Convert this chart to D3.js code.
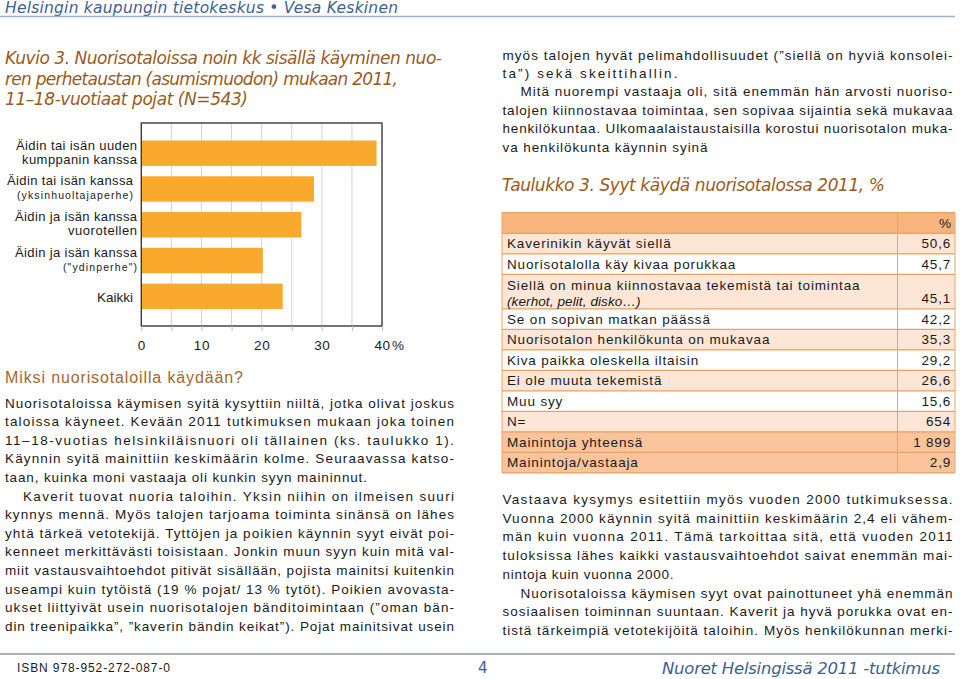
<!DOCTYPE html>
<html><head><meta charset="utf-8">
<script src="https://cdn.jsdelivr.net/npm/d3@7"></script>
<style>
html,body{margin:0;padding:0;background:#fff;}
svg{display:block;}
</style></head>
<body>
<svg id="page" width="960" height="679"></svg>
<script>
// ---------- DATA ----------
const categories = [
  ["Äidin tai isän uuden", "kumppanin kanssa"],
  ["Äidin tai isän kanssa", "(yksinhuoltajaperhe)"],
  ["Äidin ja isän kanssa", "vuorotellen"],
  ["Äidin ja isän kanssa", "(\"ydinperhe\")"],
  ["Kaikki"]
];
const values = [39.1, 28.7, 26.6, 20.2, 23.5];
const xTicks = [0, 5, 10, 15, 20, 25, 30, 35, 40];
const xTickLabels = ["0", "", "10", "", "20", "", "30", "", "40"];

const tableLabels = [
  ["Kaverinikin käyvät siellä"],
  ["Nuorisotalolla käy kivaa porukkaa"],
  ["Siellä on minua kiinnostavaa tekemistä tai toimintaa", "(kerhot, pelit, disko…)"],
  ["Se on sopivan matkan päässä"],
  ["Nuorisotalon henkilökunta on mukavaa"],
  ["Kiva paikka oleskella iltaisin"],
  ["Ei ole muuta tekemistä"],
  ["Muu syy"],
  ["N="],
  ["Mainintoja yhteensä"],
  ["Mainintoja/vastaaja"]
];
const tableValues = ["50,6", "45,7", "45,1", "42,2", "35,3", "29,2", "26,6", "15,6", "654", "1 899", "2,9"];

const leftText = [
  "Nuorisotaloissa käymisen syitä kysyttiin niiltä, jotka olivat joskus",
  "taloissa käyneet. Kevään 2011 tutkimuksen mukaan joka toinen",
  "11–18-vuotias helsinkiläisnuori oli tällainen (ks. taulukko 1).",
  "Käynnin syitä mainittiin keskimäärin kolme. Seuraavassa katso-",
  "taan, kuinka moni vastaaja oli kunkin syyn maininnut.",
  "Kaverit tuovat nuoria taloihin. Yksin niihin on ilmeisen suuri",
  "kynnys mennä. Myös talojen tarjoama toiminta sinänsä on lähes",
  "yhtä tärkeä vetotekijä. Tyttöjen ja poikien käynnin syyt eivät poi-",
  "kenneet merkittävästi toisistaan. Jonkin muun syyn kuin mitä val-",
  "miit vastausvaihtoehdot pitivät sisällään, pojista mainitsi kuitenkin",
  "useampi kuin tytöistä (19 % pojat/ 13 % tytöt). Poikien avovasta-",
  "ukset liittyivät usein nuorisotalojen bänditoimintaan (”oman bän-",
  "din treenipaikka”, ”kaverin bändin keikat”). Pojat mainitsivat usein"
];
const rightTopText = [
  "myös talojen hyvät pelimahdollisuudet (”siellä on hyviä konsolei-",
  "ta”) sekä skeittihallin.",
  "Mitä nuorempi vastaaja oli, sitä enemmän hän arvosti nuoriso-",
  "talojen kiinnostavaa toimintaa, sen sopivaa sijaintia sekä mukavaa",
  "henkilökuntaa. Ulkomaalaistaustaisilla korostui nuorisotalon muka-",
  "va henkilökunta käynnin syinä"
];
const rightBottomText = [
  "Vastaava kysymys esitettiin myös vuoden 2000 tutkimuksessa.",
  "Vuonna 2000 käynnin syitä mainittiin keskimäärin 2,4 eli vähem-",
  "män kuin vuonna 2011. Tämä tarkoittaa sitä, että vuoden 2011",
  "tuloksissa lähes kaikki vastausvaihtoehdot saivat enemmän mai-",
  "nintoja kuin vuonna 2000.",
  "Nuorisotaloissa käymisen syyt ovat painottuneet yhä enemmän",
  "sosiaalisen toiminnan suuntaan. Kaverit ja hyvä porukka ovat en-",
  "tistä tärkeimpiä vetotekijöitä taloihin. Myös henkilökunnan merki-"
];
const titleLines = [
  "Kuvio 3. Nuorisotaloissa noin kk sisällä käyminen nuo-",
  "ren perhetaustan (asumismuodon) mukaan 2011,",
  "11–18-vuotiaat pojat (N=543)"
];

// ---------- PAGE ----------
const svg = d3.select("#page");
const SANS = "'Liberation Sans', Arial, sans-serif";
const VERD = "'DejaVu Sans', Verdana, sans-serif";
const BLUE = "#3f5f90", BROWN = "#9a5a1c", TXT = "#1a1a1a";

function txt(s, x, y, o) {
  o = o || {};
  const t = svg.append("text").attr("x", x).attr("y", y).text(s)
    .attr("font-family", o.family || SANS)
    .attr("font-size", o.size || 13)
    .attr("fill", o.fill || TXT);
  if (o.italic) t.attr("font-style", "italic");
  if (o.anchor) t.attr("text-anchor", o.anchor);
  if (o.ls) t.attr("letter-spacing", o.ls);
  if (o.width) t.attr("textLength", o.width).attr("lengthAdjust", "spacing");
  return t;
}

// header
txt("Helsingin kaupungin tietokeskus • Vesa Keskinen", 5, 12.5, {family: VERD, size: 15.5, italic: true, fill: BLUE, width: 393});
svg.append("line").attr("x1", 0).attr("x2", 955).attr("y1", 16.5).attr("y2", 16.5).attr("stroke", "#9fb3cc").attr("stroke-width", 1.5);

// title
const titleW = [437, 393, 243];
titleLines.forEach((s, i) => txt(s, 5, 64 + i * 20.5, {family: VERD, size: 17, italic: true, fill: BROWN, width: titleW[i]}));

// ---------- CHART ----------
const x = d3.scaleLinear().domain([0, 40]).range([141.3, 382]);
const y = d3.scaleBand().domain(d3.range(categories.length)).range([135.3, 314.2]).paddingInner(0.29).paddingOuter(0.145);
const plotTop = 123, plotBottom = 326;
const chart = svg.append("g");

chart.selectAll("line.grid").data(xTicks.filter(d => d > 0 && d < 40)).join("line")
  .attr("class", "grid").attr("x1", d => x(d)).attr("x2", d => x(d))
  .attr("y1", plotTop).attr("y2", plotBottom).attr("stroke", "#d4d4d4").attr("stroke-width", 1);

chart.selectAll("rect.bar").data(values).join("rect")
  .attr("class", "bar").attr("x", x(0)).attr("y", (d, i) => y(i))
  .attr("width", d => x(d) - x(0)).attr("height", y.bandwidth()).attr("fill", "#f9a92b");

chart.append("rect").attr("x", x(0)).attr("y", plotTop).attr("width", x(40) - x(0)).attr("height", plotBottom - plotTop)
  .attr("fill", "none").attr("stroke", "#3a3a3a").attr("stroke-width", 1.4);

const axis = d3.axisBottom(x).tickValues(xTicks).tickFormat((d, i) => xTickLabels[i]).tickSize(5).tickPadding(9);
const ax = chart.append("g").attr("transform", `translate(0,${plotBottom})`).call(axis);
ax.select(".domain").remove();
ax.selectAll(".tick line").attr("stroke", "#bbb");
ax.selectAll(".tick text").attr("font-family", SANS).attr("font-size", 13.5).attr("fill", TXT).attr("letter-spacing", 0.6);
txt("%", 392, 350, {size: 13.5});

// category labels (line widths are layout measurements)
const labelW = [[121, 115], [126, 116], [122, 69], [122, 74], [36]];
categories.forEach((lines, i) => {
  const c = y(i) + y.bandwidth() / 2;
  if (lines.length === 1) {
    txt(lines[0], 133, c + 6, {size: 13.5, anchor: "end", width: labelW[i][0]});
  } else {
    const small = lines[1].startsWith("(");
    const xr = (i === 1) ? 133 : 137;
    txt(lines[0], xr, c - 3.5, {size: 13, anchor: "end", width: labelW[i][0]});
    txt(lines[1], small ? (i === 1 ? 133 : 137) : 137, c + (small ? 10 : 10.5), {size: small ? 10.5 : 13, anchor: "end", width: labelW[i][1]});
  }
});

// ---------- LEFT TEXT ----------
txt("Miksi nuorisotaloilla käydään?", 5, 382.5, {size: 16, fill: "#a4672d", width: 238});
const leftLast = {4: 362};
leftText.forEach((s, i) => {
  const indent = i === 5 ? 18 : 0;
  const w = leftLast[i] !== undefined ? leftLast[i] : 449 - indent;
  txt(s, 5 + indent, 407.5 + i * 18.61, {size: 13.5, width: w});
});

// ---------- RIGHT TEXT ----------
const rtLast = {1: 175, 5: 205};
rightTopText.forEach((s, i) => {
  const indent = i === 2 ? 18 : 0;
  const w = rtLast[i] !== undefined ? rtLast[i] : 450 - indent;
  txt(s, 502.5 + indent, 59.5 + i * 18.45, {size: 13.5, width: w});
});

txt("Taulukko 3. Syyt käydä nuorisotalossa 2011, %", 502, 191, {family: VERD, size: 17, italic: true, fill: BROWN, width: 383});

// ---------- TABLE ----------
const tLeft = 502, tRight = 955, tDiv = 897.5, tTop = 212.7, hdrH = 20.6, rowH = 20.5, dblH = 34.6;
const rowHeights = tableLabels.map(l => l.length > 1 ? dblH : rowH);
const rowY = [];
let acc = tTop + hdrH;
rowHeights.forEach(h => { rowY.push(acc); acc += h; });
const tBottom = acc;
const rowFill = (i) => i >= 9 ? "#f9c39b" : (i % 2 === 0 ? "#fde6d6" : "#ffffff");
const tg = svg.append("g");
tg.append("rect").attr("x", tLeft).attr("y", tTop).attr("width", tRight - tLeft).attr("height", hdrH).attr("fill", "#f8b47d");
tg.selectAll("rect.row").data(tableValues).join("rect").attr("class", "row")
  .attr("x", tLeft).attr("y", (d, i) => rowY[i]).attr("width", tRight - tLeft).attr("height", (d, i) => rowHeights[i])
  .attr("fill", (d, i) => rowFill(i));
[tTop, ...rowY, tBottom].forEach(yy => tg.append("line").attr("x1", tLeft).attr("x2", tRight).attr("y1", yy).attr("y2", yy).attr("stroke", "#e9a060").attr("stroke-width", 1.2));
[tLeft, tDiv, tRight].forEach(xx => tg.append("line").attr("x1", xx).attr("x2", xx).attr("y1", tTop).attr("y2", tBottom).attr("stroke", "#eaa468").attr("stroke-width", 1));
txt("%", 951, 227.5, {size: 13.5, anchor: "end"});
tableLabels.forEach((lines, i) => {
  const top = rowY[i];
  if (lines.length === 1) {
    txt(lines[0], 507, top + 15, {size: 13.5, ls: 0.85});
  } else {
    txt(lines[0], 507, top + 16, {size: 13.5, ls: 0.85});
    txt(lines[1], 507, top + 31.5, {size: 13.5, italic: true, ls: 0.1});
  }
  txt(tableValues[i], 951, top + rowHeights[i] - 5.5, {size: 13.5, anchor: "end", ls: 0.8});
});

// ---------- RIGHT BOTTOM TEXT ----------
const rbLast = {4: 171};
rightBottomText.forEach((s, i) => {
  const indent = i === 5 ? 18 : 0;
  const w = rbLast[i] !== undefined ? rbLast[i] : 450 - indent;
  txt(s, 502.5 + indent, 504 + i * 18.7, {size: 13.5, width: w});
});

// ---------- FOOTER ----------
svg.append("line").attr("x1", 0).attr("x2", 955).attr("y1", 654).attr("y2", 654).attr("stroke", "#a8b3c0").attr("stroke-width", 2);
txt("ISBN 978-952-272-087-0", 17, 672, {size: 12, width: 153});
txt("4", 478, 673, {family: VERD, size: 15, fill: BLUE});
txt("Nuoret Helsingissä 2011 -tutkimus", 662, 673.5, {family: VERD, size: 16.5, italic: true, fill: BLUE, width: 278});
</script>
</body></html>
